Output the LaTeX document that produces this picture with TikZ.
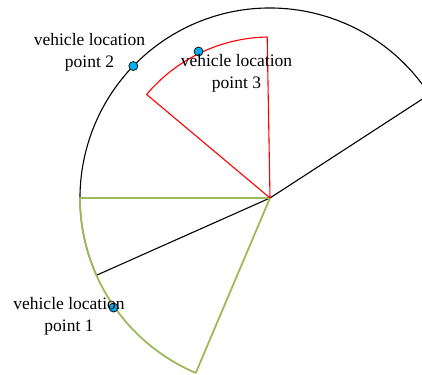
\documentclass[tikz,border=0pt]{standalone}
\usepackage{fontspec}
\setmainfont{Liberation Serif}
\usepackage{xcolor}
\usepackage{tikz}
\usetikzlibrary{positioning}

\definecolor{sectorgreen}{RGB}{155,187,89}
\definecolor{pointblue}{RGB}{0,176,240}

\begin{document}
\begin{tikzpicture}[
    x=1pt, y=1pt,
    rangesector/.style={draw=black, line width=1.1pt, line join=round},
    fovsector/.style={draw=red, line width=1.1pt, line join=round},
    zonesector/.style={draw=sectorgreen, line width=1.8pt, line join=round},
    vpoint/.style={draw=black, circle, fill=pointblue, inner sep=0pt,
      minimum size=9pt, line width=0.7pt},
    lbl/.style={align=center, font=\fontsize{17.5}{22}\selectfont}
]
\useasboundingbox (-270,-176) rectangle (152,198);
\clip (-270,-176) rectangle (152,198);

\coordinate (o) at (0,0);

% Sectors
\draw[rangesector] (o) -- (33:190) arc[start angle=33, end angle=204, radius=190] -- cycle;
\draw[zonesector] (o) -- (180:190) arc[start angle=180, end angle=247, radius=190] -- cycle;
\draw[fovsector] (o) -- (91:161) arc[start angle=91, end angle=140, radius=161] -- cycle;

% Vehicle locations
\node[vpoint] (p2) at (136:190) {};
\node[vpoint] (p3) at (116:163) {};
\node[vpoint] (p1) at (215:191) {};

% Labels
\node[lbl] (l2) at (-180.5,146) {vehicle location\\point 2};
\node[lbl] (l3) at (-33.5,125) {vehicle location\\point 3};
\node[lbl] (l1) at (-201,-118) {vehicle location\\point 1};

\end{tikzpicture}
\end{document}
